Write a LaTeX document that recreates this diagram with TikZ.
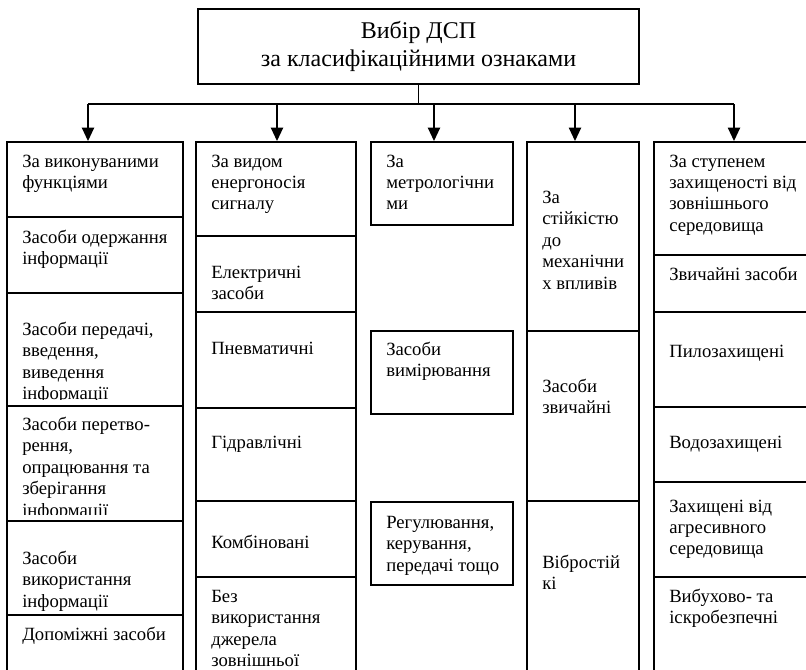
\documentclass[tikz,border=0pt]{standalone}
\usepackage{fontspec}
\setmainfont{Liberation Serif}
\usetikzlibrary{arrows.meta,fit}
\tikzset{
  cellbox/.style={draw=black,line width=1.4pt,fill=white,inner sep=0pt,rectangle},
  celltext/.style={anchor=north west,inner sep=0pt,align=left,font=\fontsize{14pt}{16.1pt}\selectfont},
  titlebox/.style={draw=black,line width=1.5pt,fill=white,rectangle,align=center,
    minimum width=330.75pt,minimum height=56.25pt,inner sep=0pt,
    font=\fontsize{18pt}{21pt}\selectfont},
  link/.style={line width=1.4pt},
  arr/.style={line width=1.4pt,-{Triangle[length=10pt,width=9pt]}}
}
\def\clipin{7}
\newcommand{\mkcell}[7]{%
  \node[cellbox, fit={(#2,#3) (#4,#5)}] (#1) {};
  \begin{scope}
    \clip (#2,#3+2) rectangle (#4,#5-\clipin);
    \node[celltext] (#1t) at (#2+15,#6-10) {\strut#7};
  \end{scope}}
\begin{document}
\begin{tikzpicture}[x=0.75pt,y=-0.75pt]
\clip (0,0) rectangle (806,669);
\fill[white] (0,0) rectangle (806,669);

\node[titlebox] (title) at (418.5,46.5) {Вибір ДСП\\за класифікаційними ознаками};

% column 1
\mkcell{c1a}{7}{142}{183}{217}{161.7}{За виконуваними\\функціями}
\mkcell{c1b}{7}{217}{183}{293}{238}{Засоби одержання\\інформації}
\mkcell{c1c}{7}{293}{183}{406}{330}{Засоби передачі,\\введення,\\виведення\\інформації}
\mkcell{c1d}{7}{406}{183}{521}{425}{Засоби перетво-\\рення,\\опрацювання та\\зберігання\\інформації}
\def\clipin{1}
\mkcell{c1e}{7}{521}{183}{615}{559}{Засоби\\використання\\інформації}
\def\clipin{7}
\mkcell{c1f}{7}{615}{183}{676}{635}{Допоміжні засоби}

% column 2
\mkcell{c2a}{196}{142}{356}{236}{161.7}{За видом\\енергоносія\\сигналу}
\mkcell{c2b}{196}{236}{356}{312}{273}{Електричні\\засоби}
\mkcell{c2c}{196}{312}{356}{408}{349}{Пневматичні}
\mkcell{c2d}{196}{408}{356}{501}{443}{Гідравлічні}
\mkcell{c2e}{196}{501}{356}{577}{543}{Комбіновані}
\mkcell{c2f}{196}{577}{356}{676}{597}{Без\\використання\\джерела\\зовнішньої}

% column 3
\mkcell{c3a}{371}{142}{513}{225}{161.7}{За\\метрологічни\\ми}
\mkcell{c3b}{371}{331}{513}{414}{350}{Засоби\\вимірювання}
\mkcell{c3c}{371}{502}{513}{585}{523}{Регулювання,\\керування,\\передачі тощо}

% column 4
\mkcell{c4a}{527}{142}{639}{331}{198}{За\\стійкістю\\до\\механічни\\х впливів}
\mkcell{c4b}{527}{331}{639}{501}{387}{Засоби\\звичайні}
\mkcell{c4c}{527}{501}{639}{676}{563}{Вібростій\\кі}

% column 5
\mkcell{c5a}{654}{142}{820}{255}{161.7}{За ступенем\\захищеності від\\зовнішнього\\середовища}
\mkcell{c5b}{654}{255}{820}{312}{275}{Звичайні засоби}
\mkcell{c5c}{654}{312}{820}{407}{351.7}{Пилозахищені}
\mkcell{c5d}{654}{407}{820}{482}{443}{Водозахищені}
\mkcell{c5e}{654}{482}{820}{577}{506.7}{Захищені від\\агресивного\\середовища}
\mkcell{c5f}{654}{577}{820}{676}{597}{Вибухово- та\\іскробезпечні}

% connectors
\coordinate (a1) at (88,104);
\coordinate (a2) at (277,104);
\coordinate (a3) at (434,104);
\coordinate (a4) at (575,104);
\coordinate (a5) at (734,104);
\draw[link] (title.south) -- (title.south |- a1);
\draw[link] (a1) -- (a5);
\draw[arr] (a1) -- (a1 |- c1a.north);
\draw[arr] (a2) -- (a2 |- c2a.north);
\draw[arr] (a3) -- (a3 |- c3a.north);
\draw[arr] (a4) -- (a4 |- c4a.north);
\draw[arr] (a5) -- (a5 |- c5a.north);
\end{tikzpicture}
\end{document}
